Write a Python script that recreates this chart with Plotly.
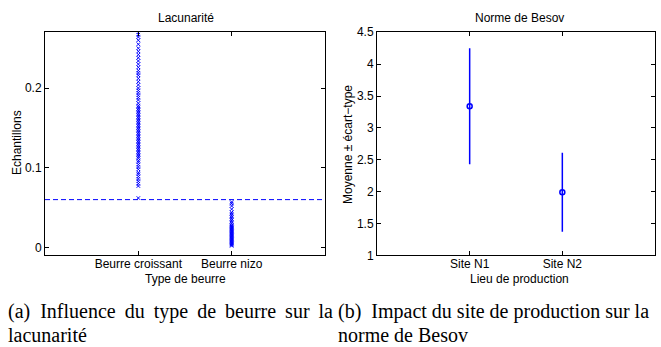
import plotly.graph_objects as go

# ---- data ----
butter_types = ["Beurre croissant", "Beurre nizo"]
croissant_vals = [0.062, 0.077, 0.080, 0.083, 0.086, 0.089, 0.092, 0.094, 0.098, 0.101,
                  0.104, 0.107, 0.109, 0.112, 0.114, 0.116, 0.118, 0.120, 0.122, 0.124,
                  0.126, 0.128, 0.130, 0.132, 0.134, 0.136, 0.138, 0.140, 0.142, 0.144,
                  0.146, 0.148, 0.150, 0.152, 0.154, 0.156, 0.158, 0.160, 0.162, 0.164,
                  0.166, 0.168, 0.170, 0.172, 0.174, 0.176, 0.178, 0.181, 0.185, 0.188,
                  0.191, 0.194, 0.197, 0.200, 0.204, 0.208, 0.212, 0.216, 0.219, 0.222,
                  0.226, 0.230, 0.234, 0.238, 0.242, 0.246, 0.250, 0.255, 0.260, 0.264,
                  0.267, 0.270]
nizo_vals = [0.002, 0.003, 0.004, 0.005, 0.006, 0.007, 0.008, 0.009, 0.010, 0.011,
             0.012, 0.013, 0.014, 0.015, 0.016, 0.017, 0.018, 0.019, 0.020, 0.021,
             0.022, 0.023, 0.024, 0.025, 0.026, 0.027, 0.028, 0.030, 0.032, 0.034,
             0.036, 0.038, 0.040, 0.042, 0.044, 0.048, 0.052, 0.055, 0.057]
threshold = 0.06

sites = ["Site N1", "Site N2"]
besov_mean = [3.34, 1.99]
besov_std = [0.91, 0.62]

BLUE = "rgb(0,0,255)"
FONT = "Liberation Sans, Arial, sans-serif"
FS = 12

fig = go.Figure()

# left panel: samples
xs = [1] * len(croissant_vals) + [2] * len(nizo_vals)
ys = croissant_vals + nizo_vals
fig.add_trace(go.Scatter(x=xs, y=ys, mode="markers", xaxis="x", yaxis="y",
                         marker=dict(symbol="x-thin", size=3.5, color=BLUE,
                                     line=dict(width=1, color=BLUE)),
                         showlegend=False))
fig.add_trace(go.Scatter(x=[0, 3], y=[threshold, threshold], mode="lines", xaxis="x", yaxis="y",
                         line=dict(color=BLUE, width=1, dash="5px,3px"), showlegend=False))

# right panel: mean +/- std
fig.add_trace(go.Scatter(x=[1, 2], y=besov_mean, mode="markers", xaxis="x2", yaxis="y2",
                         marker=dict(symbol="circle-open", size=5, color=BLUE,
                                     line=dict(width=1.5, color=BLUE)),
                         error_y=dict(type="data", array=besov_std, color=BLUE,
                                      thickness=1.5, width=0),
                         showlegend=False))

axis_common = dict(showline=True, linecolor="black", linewidth=1, mirror="ticks",
                   ticks="inside", ticklen=4, tickcolor="black", showgrid=False,
                   zeroline=False, automargin=False,
                   tickfont=dict(family=FONT, size=FS, color="black"))

ydom = [0.264, 0.907]
fig.update_layout(
    template="none",
    width=661, height=347,
    margin=dict(l=0, r=0, t=0, b=0, pad=0),
    font=dict(family=FONT, size=FS, color="black"),
    paper_bgcolor="white", plot_bgcolor="white",
    xaxis=dict(domain=[45/661, 325/661], range=[0, 3], tickmode="array",
               tickvals=[1, 2], ticktext=butter_types, anchor="y",
               ticklabelstandoff=-3, **axis_common),
    yaxis=dict(domain=ydom, range=[-0.01, 0.27], tickmode="array",
               tickvals=[0, 0.1, 0.2], ticktext=["0", "0.1", "0.2"], anchor="x", **axis_common),
    xaxis2=dict(domain=[377/661, 655/661], range=[0, 3], tickmode="array",
                tickvals=[1, 2], ticktext=sites, anchor="y2",
                ticklabelstandoff=-3, **axis_common),
    yaxis2=dict(domain=ydom, range=[1, 4.5], tickmode="array",
                tickvals=[1, 1.5, 2, 2.5, 3, 3.5, 4, 4.5],
                ticktext=["1", "1.5", "2", "2.5", "3", "3.5", "4", "4.5"],
                anchor="x2", **axis_common),
)

def ann(text, x, y, size=FS, family=FONT, xanchor="center", yanchor="middle", angle=0):
    fig.add_annotation(text=text, x=x, y=y, xref="paper", yref="paper",
                       xanchor=xanchor, yanchor=yanchor, showarrow=False, textangle=angle,
                       font=dict(family=family, size=size, color="black"))

H = 347.0
W = 661.0
ann("Lacunarité", 186/W, 1 - 18/H)
ann("Norme de Besov", 519/W, 1 - 18/H)
ann("Type de beurre", 186/W, 1 - 279/H)
ann("Lieu de production", 519/W, 1 - 279/H)
ann("Echantillons", 17/W, 1 - 143/H, angle=-90)
ann("Moyenne ± écart−type", 348/W, 1 - 145/H, angle=-90)

SERIF = "Liberation Serif, Times New Roman, serif"
ts = "\u2009"
ann("(a)  Influence " + ts + "du " + ts + "type " + ts + "de " + ts + "beurre " + ts + "sur " + ts + "la",
    6/W, 1 - 311/H, size=20, family=SERIF, xanchor="left")
ann("lacunarité", 6/W, 1 - 335/H, size=20, family=SERIF, xanchor="left")
ann("(b)  Impact du site de production sur la", 336/W, 1 - 311/H, size=20, family=SERIF, xanchor="left")
ann("norme de Besov", 336/W, 1 - 335/H, size=20, family=SERIF, xanchor="left")

fig.write_html("out.html", config={"displayModeBar": False},
               post_script="document.body.style.margin='0';document.body.style.overflow='hidden';")
